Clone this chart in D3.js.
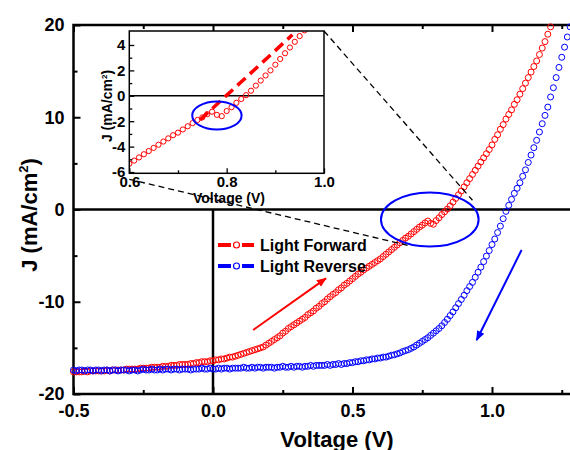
<!DOCTYPE html>
<html>
<head>
<meta charset="utf-8">
<script src="https://d3js.org/d3.v7.min.js"></script>
<style>
  body { margin: 0; background: #fff; }
  svg { display: block; font-family: "Liberation Sans", Arial, sans-serif; font-weight: bold; }
</style>
</head>
<body>
<svg id="chart" width="570" height="450"></svg>
<script>
// voltage sweep of the measurement (V)
const sweepStart = -0.5, sweepStep = 0.01;

// current density J (mA/cm2), one value per sweep step
const forwardJ = [
  -17.6,-17.6,-17.6,-17.6,-17.5,-17.6,-17.5,-17.5,-17.5,-17.5,
  -17.5,-17.5,-17.4,-17.5,-17.4,-17.4,-17.4,-17.4,-17.4,-17.3,
  -17.3,-17.3,-17.3,-17.3,-17.2,-17.2,-17.2,-17.2,-17.1,-17.1,
  -17.1,-17.1,-17.0,-17.0,-17.0,-16.9,-16.9,-16.9,-16.8,-16.8,
  -16.8,-16.8,-16.7,-16.7,-16.6,-16.6,-16.5,-16.5,-16.5,-16.4,
  -16.4,-16.3,-16.3,-16.2,-16.2,-16.1,-16.0,-16.0,-15.9,-15.8,
  -15.7,-15.6,-15.5,-15.4,-15.3,-15.2,-15.1,-15.0,-14.9,-14.7,
  -14.5,-14.3,-14.1,-13.9,-13.7,-13.4,-13.2,-12.9,-12.7,-12.5,
  -12.3,-12.1,-11.9,-11.7,-11.4,-11.2,-11.0,-10.7,-10.5,-10.2,
  -10.0,-9.7,-9.45,-9.2,-9.0,-8.7,-8.5,-8.2,-8.0,-7.75,
  -7.5,-7.25,-7.0,-6.8,-6.55,-6.35,-6.15,-5.95,-5.75,-5.55,
  -5.35,-5.1,-4.85,-4.6,-4.35,-4.1,-3.85,-3.6,-3.35,-3.1,
  -2.9,-2.65,-2.4,-2.15,-1.9,-1.7,-1.45,-1.25,-1.5,-1.6,
  -1.2,-0.9,-0.55,-0.25,0.05,0.4,0.8,1.2,1.6,2.0,
  2.45,2.9,3.35,3.8,4.25,4.7,5.15,5.6,6.05,6.5,
  7.0,7.6,8.1,8.7,9.2,9.8,10.3,10.8,11.4,11.9,
  12.5,13.1,13.7,14.3,14.9,15.5,16.1,16.8,17.5,18.2,
  19.0,19.8
];
const reverseJ = [
  -17.4,-17.5,-17.4,-17.4,-17.5,-17.4,-17.4,-17.5,-17.4,-17.4,
  -17.5,-17.4,-17.4,-17.5,-17.4,-17.4,-17.5,-17.4,-17.4,-17.4,
  -17.5,-17.4,-17.4,-17.5,-17.4,-17.3,-17.4,-17.4,-17.3,-17.4,
  -17.4,-17.3,-17.4,-17.3,-17.3,-17.4,-17.3,-17.3,-17.4,-17.3,
  -17.3,-17.3,-17.4,-17.3,-17.3,-17.3,-17.2,-17.3,-17.3,-17.2,
  -17.3,-17.3,-17.2,-17.3,-17.2,-17.2,-17.3,-17.2,-17.2,-17.2,
  -17.2,-17.1,-17.2,-17.2,-17.1,-17.2,-17.1,-17.1,-17.2,-17.1,
  -17.1,-17.1,-17.2,-17.1,-17.1,-17.0,-17.1,-17.1,-17.0,-17.1,
  -17.0,-17.0,-17.1,-17.0,-17.0,-16.9,-17.0,-16.9,-16.9,-16.9,
  -16.9,-16.8,-16.9,-16.8,-16.8,-16.7,-16.8,-16.7,-16.7,-16.6,
  -16.6,-16.5,-16.5,-16.4,-16.4,-16.3,-16.3,-16.2,-16.2,-16.1,
  -16.1,-16.0,-16.0,-15.9,-15.8,-15.75,-15.65,-15.55,-15.4,-15.3,
  -15.2,-15.05,-14.9,-14.7,-14.5,-14.3,-14.1,-13.9,-13.65,-13.4,
  -13.15,-12.9,-12.6,-12.25,-11.9,-11.5,-11.1,-10.65,-10.2,-9.75,
  -9.3,-8.8,-8.35,-7.9,-7.35,-6.8,-6.25,-5.65,-5.05,-4.45,
  -3.8,-3.2,-2.5,-1.8,-1.0,-0.2,0.45,1.1,1.75,2.3,
  2.9,3.6,4.3,5.1,5.9,6.7,7.5,8.4,9.3,10.2,
  11.1,12.2,13.2,14.3,15.4,16.5,17.6,18.7,19.8
];

const seriesNames = ['Light Forward', 'Light Reverse'];
const seriesColors = ['#ff0000', '#0000ff'];

const xTicksMain = [-0.5, 0, 0.5, 1.0];
const xMinorMain = [-0.25, 0.25, 0.75, 1.25];
const yTicksMain = [-20, -10, 0, 10, 20];
const yMinorMain = [-15, -5, 5, 15];
const xTicksInset = [0.6, 0.8, 1.0];
const xMinorInset = [0.7, 0.9];
const yTicksInset = [-6, -4, -2, 0, 2, 4];
const yMinorInset = [-5, -3, -1, 1, 3];

// annotations, in data units (V, J)
const mainEllipse = [0.777, -1.08, 0.175, 2.93];
const insetEllipse = [0.78, -1.55, 0.0507, 1.11];
const fitLine = [[0.745, -1.9], [0.935, 4.8]];
const forwardArrow = [[0.144, -13.06], [0.405, -7.46]];
const reverseArrow = [[1.106, -4.39], [0.945, -14.15]];
const zoomTargets = [[0.93, 1.0], [0.711, -3.98]];

const toPoints = (arr) => arr.map((j, i) => ({v: +(sweepStart + i * sweepStep).toFixed(2), j: j}));
const forward = toPoints(forwardJ);
const reverse = toPoints(reverseJ);

const svg = d3.select('#chart');

const x = d3.scaleLinear().domain([-0.5, 1.3]).range([73.5, 575.7]);
const y = d3.scaleLinear().domain([-20, 20]).range([394, 25]);
const xi = d3.scaleLinear().domain([0.6, 1.0]).range([129.3, 324]);
const yi = d3.scaleLinear().domain([-6.1, 5.1]).range([173.3, 31]);

const defs = svg.append('defs');
[['head-red', seriesColors[0]], ['head-blue', seriesColors[1]]].forEach(([id, c]) => {
  defs.append('marker')
    .attr('id', id).attr('viewBox', '0 0 10 10')
    .attr('refX', 9).attr('refY', 5)
    .attr('markerWidth', 5).attr('markerHeight', 5)
    .attr('orient', 'auto')
    .append('path').attr('d', 'M0,1 L10,5 L0,9 Z').attr('fill', c);
});
defs.append('clipPath').attr('id', 'inset-clip')
  .append('rect')
  .attr('x', xi(0.6)).attr('y', yi(5.1))
  .attr('width', xi(1.0) - xi(0.6)).attr('height', yi(-6.1) - yi(5.1));

function styleAxis(g, size, width) {
  g.select('.domain').remove();
  g.selectAll('line').attr('stroke', '#000').attr('stroke-width', width);
  g.selectAll('text')
    .attr('font-family', '"Liberation Sans", Arial, sans-serif')
    .attr('font-weight', 'bold')
    .attr('font-size', size)
    .attr('fill', '#000');
}

function drawMainAxes() {
  const fmt = (d) => d.toFixed(1);
  svg.append('g').attr('transform', 'translate(0,' + y(-20) + ')')
    .call(d3.axisBottom(x).tickValues(xTicksMain).tickSize(-7).tickPadding(10).tickFormat(fmt))
    .call((g) => styleAxis(g, 18, 2));
  svg.append('g').attr('transform', 'translate(0,' + y(-20) + ')')
    .call(d3.axisBottom(x).tickValues(xMinorMain).tickSize(-4).tickFormat(''))
    .call((g) => styleAxis(g, 18, 2));
  svg.append('g').attr('transform', 'translate(0,' + y(20) + ')')
    .call(d3.axisTop(x).tickValues(xTicksMain).tickSize(-7).tickFormat(''))
    .call((g) => styleAxis(g, 18, 2));
  svg.append('g').attr('transform', 'translate(0,' + y(20) + ')')
    .call(d3.axisTop(x).tickValues(xMinorMain).tickSize(-4).tickFormat(''))
    .call((g) => styleAxis(g, 18, 2));
  svg.append('g').attr('transform', 'translate(' + x(-0.5) + ',0)')
    .call(d3.axisLeft(y).tickValues(yTicksMain).tickSize(-7).tickPadding(9).tickFormat((d) => String(d)))
    .call((g) => styleAxis(g, 18, 2));
  svg.append('g').attr('transform', 'translate(' + x(-0.5) + ',0)')
    .call(d3.axisLeft(y).tickValues(yMinorMain).tickSize(-4).tickFormat(''))
    .call((g) => styleAxis(g, 18, 2));

  // zero lines
  svg.append('line')
    .attr('x1', x(-0.5)).attr('x2', x(1.3))
    .attr('y1', y(0)).attr('y2', y(0))
    .attr('stroke', '#000').attr('stroke-width', 2.5);
  svg.append('line')
    .attr('x1', x(0)).attr('x2', x(0))
    .attr('y1', y(0)).attr('y2', y(-20))
    .attr('stroke', '#000').attr('stroke-width', 2.5);

  svg.append('rect')
    .attr('x', x(-0.5)).attr('y', y(20))
    .attr('width', x(1.3) - x(-0.5)).attr('height', y(-20) - y(20))
    .attr('fill', 'none').attr('stroke', '#000').attr('stroke-width', 2.5);

  svg.append('text')
    .attr('x', 337).attr('y', 447)
    .attr('text-anchor', 'middle').attr('font-size', 22)
    .text('Voltage (V)');

  const yt = svg.append('text')
    .attr('transform', 'translate(37,215) rotate(-90)')
    .attr('text-anchor', 'middle').attr('font-size', 22);
  yt.append('tspan').text('J (mA/cm');
  yt.append('tspan').attr('dy', -9).attr('font-size', 13).text('2');
  yt.append('tspan').attr('dy', 9).text(')');
}

function drawSeries(g, data, color, sx, sy, r) {
  g.append('g')
    .selectAll('circle')
    .data(data)
    .enter()
    .append('circle')
    .attr('cx', (d) => sx(d.v))
    .attr('cy', (d) => sy(d.j))
    .attr('r', r)
    .attr('fill', 'none')
    .attr('stroke', color)
    .attr('stroke-width', 1);
}

function drawAnnotations() {
  svg.append('ellipse')
    .attr('cx', x(mainEllipse[0])).attr('cy', y(mainEllipse[1]))
    .attr('rx', x(mainEllipse[0] + mainEllipse[2]) - x(mainEllipse[0]))
    .attr('ry', y(0) - y(mainEllipse[3]))
    .attr('fill', 'none').attr('stroke', seriesColors[1]).attr('stroke-width', 2);

  [[forwardArrow, 'head-red', seriesColors[0]], [reverseArrow, 'head-blue', seriesColors[1]]].forEach(([a, m, c]) => {
    svg.append('line')
      .attr('x1', x(a[0][0])).attr('y1', y(a[0][1]))
      .attr('x2', x(a[1][0])).attr('y2', y(a[1][1]))
      .attr('stroke', c).attr('stroke-width', 2)
      .attr('marker-end', 'url(#' + m + ')');
  });
}

function drawInset() {
  svg.append('rect')
    .attr('x', xi(0.6)).attr('y', yi(5.1))
    .attr('width', xi(1.0) - xi(0.6)).attr('height', yi(-6.1) - yi(5.1))
    .attr('fill', '#fff');

  svg.append('line')
    .attr('x1', xi(0.6)).attr('x2', xi(1.0))
    .attr('y1', yi(0)).attr('y2', yi(0))
    .attr('stroke', '#000').attr('stroke-width', 1.5);

  const inner = svg.append('g').attr('clip-path', 'url(#inset-clip)');
  drawSeries(inner, forward.filter((d) => d.v >= 0.6 && d.v <= 1.0), seriesColors[0], xi, yi, 2.6);

  inner.append('line')
    .attr('x1', xi(fitLine[0][0])).attr('y1', yi(fitLine[0][1]))
    .attr('x2', xi(fitLine[1][0])).attr('y2', yi(fitLine[1][1]))
    .attr('stroke', seriesColors[0]).attr('stroke-width', 3.5)
    .attr('stroke-dasharray', '11,6');

  svg.append('ellipse')
    .attr('cx', xi(insetEllipse[0])).attr('cy', yi(insetEllipse[1]))
    .attr('rx', xi(insetEllipse[0] + insetEllipse[2]) - xi(insetEllipse[0]))
    .attr('ry', yi(0) - yi(insetEllipse[3]))
    .attr('fill', 'none').attr('stroke', seriesColors[1]).attr('stroke-width', 2);

  svg.append('g').attr('transform', 'translate(0,' + yi(-6.1) + ')')
    .call(d3.axisBottom(xi).tickValues(xTicksInset).tickSize(-5).tickPadding(3).tickFormat((d) => d.toFixed(1)))
    .call((g) => styleAxis(g, 15, 1.3));
  svg.append('g').attr('transform', 'translate(0,' + yi(-6.1) + ')')
    .call(d3.axisBottom(xi).tickValues(xMinorInset).tickSize(-3).tickFormat(''))
    .call((g) => styleAxis(g, 15, 1.3));
  svg.append('g').attr('transform', 'translate(' + xi(0.6) + ',0)')
    .call(d3.axisLeft(yi).tickValues(yTicksInset).tickSize(-5).tickPadding(4).tickFormat((d) => String(d)))
    .call((g) => styleAxis(g, 15, 1.3));
  svg.append('g').attr('transform', 'translate(' + xi(0.6) + ',0)')
    .call(d3.axisLeft(yi).tickValues(yMinorInset).tickSize(-3).tickFormat(''))
    .call((g) => styleAxis(g, 15, 1.3));

  svg.append('rect')
    .attr('x', xi(0.6)).attr('y', yi(5.1))
    .attr('width', xi(1.0) - xi(0.6)).attr('height', yi(-6.1) - yi(5.1))
    .attr('fill', 'none').attr('stroke', '#000').attr('stroke-width', 1.5);

  svg.append('text')
    .attr('x', 229).attr('y', 203)
    .attr('text-anchor', 'middle').attr('font-size', 14)
    .text('Voltage (V)');

  const yt = svg.append('text')
    .attr('transform', 'translate(112,106) rotate(-90)')
    .attr('text-anchor', 'middle').attr('font-size', 14);
  yt.append('tspan').text('J (mA/cm');
  yt.append('tspan').attr('dy', -5).attr('font-size', 8).text('2');
  yt.append('tspan').attr('dy', 5).text(')');

  // dashed lines tying the inset to the zoomed region
  svg.append('line')
    .attr('x1', xi(1.0)).attr('y1', yi(5.1))
    .attr('x2', x(zoomTargets[0][0])).attr('y2', y(zoomTargets[0][1]))
    .attr('stroke', '#000').attr('stroke-width', 1.3).attr('stroke-dasharray', '6,4');
  svg.append('line')
    .attr('x1', xi(0.6)).attr('y1', yi(-6.1) + 6)
    .attr('x2', x(zoomTargets[1][0])).attr('y2', y(zoomTargets[1][1]))
    .attr('stroke', '#000').attr('stroke-width', 1.3).attr('stroke-dasharray', '6,4');
}

function drawLegend() {
  seriesNames.forEach((name, i) => {
    const ly = 245 + i * 21;
    const g = svg.append('g');
    g.append('line').attr('x1', 218).attr('x2', 231).attr('y1', ly).attr('y2', ly)
      .attr('stroke', seriesColors[i]).attr('stroke-width', 4);
    g.append('line').attr('x1', 242).attr('x2', 254).attr('y1', ly).attr('y2', ly)
      .attr('stroke', seriesColors[i]).attr('stroke-width', 4);
    g.append('circle').attr('cx', 236.5).attr('cy', ly).attr('r', 3)
      .attr('fill', '#fff').attr('stroke', seriesColors[i]).attr('stroke-width', 1.2);
    g.append('text').attr('x', 260).attr('y', ly).attr('dy', '0.36em')
      .attr('font-size', 16).text(name);
  });
}

drawMainAxes();
drawSeries(svg, forward, seriesColors[0], x, y, 3);
drawSeries(svg, reverse, seriesColors[1], x, y, 3);
drawAnnotations();
drawInset();
drawLegend();
</script>
</body>
</html>
